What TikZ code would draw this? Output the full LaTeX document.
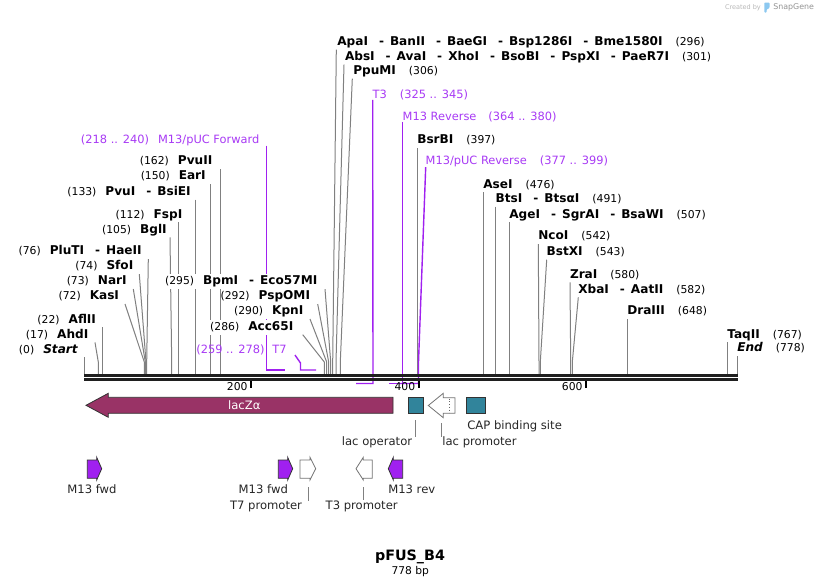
\documentclass[tikz,border=0pt]{standalone}
\usepackage{fontspec}
\setmainfont{DejaVu Sans}
\pgfdeclarelayer{bg}
\pgfsetlayers{bg,main}
\definecolor{enzgray}{RGB}{128,128,128}
\definecolor{primer}{RGB}{160,32,240}
\definecolor{primertxt}{RGB}{168,58,245}
\definecolor{laczcol}{RGB}{153,51,102}
\definecolor{featteal}{RGB}{49,132,155}
\definecolor{edgedark}{RGB}{50,50,50}
\definecolor{snapblue}{RGB}{140,200,240}
\newcommand\nmf{\fontsize{12.1}{14}\selectfont\bfseries}
\newcommand\numf{\fontsize{10.8}{13}\selectfont\mdseries}
\newcommand\prf{\fontsize{11.4}{13}\selectfont}
\newcommand\ftf{\fontsize{11.6}{13}\selectfont}
\newcommand\rlab[2]{{\nmf #1}\hspace{13pt}{\numf(#2)}}
\newcommand\llab[2]{{\numf(#1)}\hspace{9pt}{\nmf #2}}
\newcommand\dsh{\hspace{11pt}-\hspace{6pt}}
\begin{document}
\begin{tikzpicture}[x=1pt,y=-1pt,
  lab/.style={inner sep=0pt,outer sep=0pt},
  enzbox/.style={lab,fill=white,text height=9.3pt,text depth=3pt,inner ysep=1.2pt},
  rl/.style={enzbox,anchor=west},
  ll/.style={enzbox,anchor=east},
  enzl/.style={draw=enzgray,line width=1pt},
  prl/.style={draw=primer,line width=1.4pt},
  prlab/.style={lab,text=primertxt,font=\prf},
  ftlab/.style={lab,font=\ftf,text=black!85},
  conn/.style={draw=enzgray,line width=0.9pt},
  bbone/.style={draw=black!88,line width=3pt},
  scaletick/.style={draw=black,line width=2pt},
  scalelab/.style={lab,anchor=east,font=\numf},
  primerfeat/.style={fill=primer,draw=edgedark,line width=0.8pt},
  promfeat/.style={fill=white,draw=black!55,line width=0.8pt},
  boxfeat/.style={fill=featteal,draw=edgedark,line width=0.8pt,inner sep=0pt}]
\begin{pgfonlayer}{bg}
\fill[white] (0,0) rectangle (822,587);
\end{pgfonlayer}
\useasboundingbox (0,0) rectangle (822,587);

% site coordinates
\foreach \n/\x in {0/84,17/98.3,22/102.3,72/144.3,73/145.3,74/146,76/146.7,105/171.7,112/178.5,133/195.3,150/210.7,162/220.7,286/324.3,290/326.7,292/328.7,295/330.7,296/332.7,301/336,306/340.3,397/417.3,476/483.3,491/495.7,507/509.3,542/539,543/540.3,580/570.7,582/572.3,648/627.3,767/727.3,778/737.3}{
  \coordinate (k\n) at (\x,362);
  \coordinate (b\n) at (\x,374.3);
}

% ---------- right-hand enzyme labels ----------
\node[rl] (ApaI) at (337.3,42.3) {\rlab{ApaI\dsh BanII\dsh BaeGI\dsh Bsp1286I\dsh Bme1580I}{296}};
\node[rl] (AbsI) at (345,57.3) {\rlab{AbsI\dsh AvaI\dsh XhoI\dsh BsoBI\dsh PspXI\dsh PaeR7I}{301}};
\node[rl] (PpuMI) at (353.3,71.3) {\rlab{PpuMI}{306}};
\node[rl] (BsrBI) at (417.3,140.7) {\rlab{BsrBI}{397}};
\node[rl] (AseI) at (483.3,185) {\rlab{AseI}{476}};
\node[rl] (BtsI) at (495.7,199.3) {\rlab{BtsI\dsh BtsαI}{491}};
\node[rl] (AgeI) at (509.3,215) {\rlab{AgeI\dsh SgrAI\dsh BsaWI}{507}};
\node[rl] (NcoI) at (538.3,236.7) {\rlab{NcoI}{542}};
\node[rl] (BstXI) at (546.7,252.3) {\rlab{BstXI}{543}};
\node[rl] (ZraI) at (570,275) {\rlab{ZraI}{580}};
\node[rl] (XbaI) at (578.3,290) {\rlab{XbaI\dsh AatII}{582}};
\node[rl] (DraIII) at (627.3,311.7) {\rlab{DraIII}{648}};
\node[rl] (TaqII) at (727.3,335) {\rlab{TaqII}{767}};
\node[rl] (End) at (737.3,348.3) {\rlab{\itshape End}{778}};

% ---------- left-hand enzyme labels ----------
\node[ll] (PvuII) at (212.3,161.7) {\llab{162}{PvuII}};
\node[ll] (EarI) at (205.7,176.7) {\llab{150}{EarI}};
\node[ll] (PvuI) at (190.7,192.3) {\llab{133}{PvuI\dsh BsiEI}};
\node[ll] (FspI) at (182.3,215) {\llab{112}{FspI}};
\node[ll] (BglI) at (166.7,230) {\llab{105}{BglI}};
\node[ll] (PluTI) at (141.7,251.7) {\llab{76}{PluTI\dsh HaeII}};
\node[ll] (SfoI) at (133.3,266.7) {\llab{74}{SfoI}};
\node[ll] (NarI) at (126.7,281.7) {\llab{73}{NarI}};
\node[ll] (KasI) at (119,296.7) {\llab{72}{KasI}};
\node[ll] (AflII) at (96,320) {\llab{22}{AflII}};
\node[ll] (AhdI) at (88.3,335) {\llab{17}{AhdI}};
\node[ll] (Start) at (77.7,350) {\llab{0}{\itshape Start}};
\node[ll] (BpmI) at (317.3,281.7) {\llab{295}{BpmI\dsh Eco57MI}};
\node[ll] (PspOMI) at (310,296.7) {\llab{292}{PspOMI}};
\node[ll] (KpnI) at (303.3,311.7) {\llab{290}{KpnI}};
\node[ll] (Acc65I) at (293.3,327.3) {\llab{286}{Acc65I}};

% ---------- primer labels ----------
\node[prlab,anchor=east] (pFwd) at (259.3,140) {(218 .. 240)\hspace{9pt}M13/pUC Forward};
\node[prlab,anchor=east] (pT7) at (286.7,350) {(259 .. 278)\hspace{8pt}T7};
\node[prlab,anchor=west] (pT3) at (372.7,94.7) {T3\hspace{13pt}(325 .. 345)};
\node[prlab,anchor=west] (pMR) at (402.7,116.7) {M13 Reverse\hspace{12pt}(364 .. 380)};
\node[prlab,anchor=west] (pMpR) at (425.7,161.7) {M13/pUC Reverse\hspace{13pt}(377 .. 399)};

\coordinate (pfA) at (266.5,370); \coordinate (pfB) at (284.5,370);
\coordinate (t7k) at (300.5,363); \coordinate (t7A) at (300.5,370); \coordinate (t7B) at (316,370);
\coordinate (t3A) at (373,383.5); \coordinate (t3B) at (356,383.5);
\coordinate (mrA) at (402.7,383.5); \coordinate (mrB) at (389,383.5);
\coordinate (mpk) at (418.5,362); \coordinate (mpA) at (418.5,383.5); \coordinate (mpB) at (399,383.5);

\begin{pgfonlayer}{bg}
% ---------- enzyme connectors ----------
\draw[enzl] ([xshift=-1pt]ApaI.south west) -- (k296) -- (b296);
\draw[enzl] ([xshift=-1pt]AbsI.south west) -- (k301) -- (b301);
\draw[enzl] ([xshift=-1pt]PpuMI.south west) -- (k306) -- (b306);
\draw[enzl] (BsrBI.south west -| b397) -- (b397);
\draw[enzl] (AseI.south west -| b476) -- (b476);
\draw[enzl] (BtsI.south west -| b491) -- (b491);
\draw[enzl] (AgeI.south west -| b507) -- (b507);
\draw[enzl] (NcoI.south west) -- (k542) -- (b542);
\draw[enzl] (BstXI.south west) -- (k543) -- (b543);
\draw[enzl] (ZraI.south west) -- (k580) -- (b580);
\draw[enzl] (XbaI.south west) -- (k582) -- (b582);
\draw[enzl] (DraIII.south west -| b648) -- (b648);
\draw[enzl] (TaqII.south west -| b767) -- (b767);
\draw[enzl] (End.south west -| b778) -- (b778);

\draw[enzl] (PvuII.south east -| b162) -- (b162);
\draw[enzl] (EarI.south east -| b150) -- (b150);
\draw[enzl] (PvuI.south east -| b133) -- (b133);
\draw[enzl] (FspI.south east -| b112) -- (b112);
\draw[enzl] ([xshift=3.3pt]BglI.south east) -- (k105) -- (b105);
\draw[enzl] ([xshift=6.6pt]PluTI.south east) -- (k76) -- (b76);
\draw[enzl] ([xshift=6pt]SfoI.south east) -- (k74) -- (b74);
\draw[enzl] ([xshift=6.6pt]NarI.south east) -- (k73) -- (b73);
\draw[enzl] ([xshift=6pt]KasI.south east) -- (k72) -- (b72);
\draw[enzl] (AflII.south east -| b22) -- (b22);
\draw[enzl] ([xshift=6.7pt]AhdI.south east) -- (k17) -- (b17);
\draw[enzl] (Start.south east -| b0) -- (b0);
\draw[enzl] ([xshift=7.7pt]BpmI.south east) -- (k295) -- (b295);
\draw[enzl] ([xshift=7.7pt]PspOMI.south east) -- (k292) -- (b292);
\draw[enzl] ([xshift=6.7pt]KpnI.south east) -- (k290) -- (b290);
\draw[enzl] ([xshift=9.4pt]Acc65I.south east) -- (k286) -- (b286);

% ---------- primer connectors ----------
\draw[prl] (pFwd.south east -| pfA) -- (pfA) -- (pfB);
\draw[prl] ([xshift=8.3pt]pT7.south east) -- (t7k) -- (t7A) -- (t7B);
\draw[prl] (pT3.south west) -- (t3A) -- (t3B);
\draw[prl] (pMR.south west) -- (mrA) -- (mrB);
\draw[prl] (pMpR.south west) -- (mpk) -- (mpA) -- (mpB);
\end{pgfonlayer}

% ---------- backbone ----------
\coordinate (bbL) at (84,375.8); \coordinate (bbR) at (738,375.8);
\draw[bbone] (bbL) -- (bbR);
\draw[bbone] ([yshift=-3.9pt]bbL) -- ([yshift=-3.9pt]bbR);

% scale
\foreach \v/\x in {200/251,400/418.7,600/586}{
  \coordinate (tk\v) at (\x,381);
  \draw[scaletick] (tk\v) -- ++(0,6.5);
  \node[scalelab] (sl\v) at (\x-3.5,387) {\v};
}

% ---------- features row 1 ----------
\draw[fill=laczcol,draw=edgedark,line width=0.8pt] (393,397.3) -- (108.3,397.3) -- (108.3,393.3) -- (86,405.3) -- (108.3,417.3) -- (108.3,413.3) -- (393,413.3) -- cycle;
\node[lab,text=white,font=\ftf] (lacZ) at (244.3,405) {lacZα};

\node[boxfeat,minimum width=15pt,minimum height=15.6pt] (lacop) at (415.8,405.5) {};
\draw[promfeat] (455,397.7) -- (443.3,397.7) -- (443.3,393.3) -- (428.3,405.5) -- (443.3,417.7) -- (443.3,413.3) -- (455,413.3) -- cycle;
\draw[black!60,dotted,line width=0.8pt] (449,398.5) -- (449,412.5);
\node[boxfeat,minimum width=19.7pt,minimum height=15.6pt] (cap) at (475.9,405.5) {};

\node[ftlab] (lopl) at (377,442.7) {lac operator};
\node[ftlab] (lprl) at (479.5,442.7) {lac promoter};
\node[ftlab,anchor=west] (capl) at (467.3,426.7) {CAP binding site};
\coordinate (lpc) at (441,423.3);
\draw[conn] ([yshift=-6.7pt]lacop.south) -- (lacop.south |- lopl.north);
\draw[conn] (lpc) -- (lpc |- lprl.north);

% ---------- features row 2 ----------
\draw[primerfeat] (87.3,460) -- (96.7,460) -- (96.7,457.3) -- (101.7,468.7) -- (96.7,480) -- (96.7,478.3) -- (87.3,478.3) -- cycle;
\draw[primerfeat] (278.3,460) -- (287.7,460) -- (287.7,457.3) -- (292.7,468.7) -- (287.7,480) -- (287.7,478.3) -- (278.3,478.3) -- cycle;
\draw[promfeat] (300,460) -- (310,460) -- (310,457.3) -- (315.7,468.7) -- (310,480) -- (310,478.3) -- (300,478.3) -- cycle;
\draw[promfeat] (372.3,460) -- (363.3,460) -- (363.3,457.3) -- (356,468.7) -- (363.3,480) -- (363.3,478.3) -- (372.3,478.3) -- cycle;
\draw[primerfeat] (402.7,460) -- (393.3,460) -- (393.3,457.3) -- (388.3,468.7) -- (393.3,480) -- (393.3,478.3) -- (402.7,478.3) -- cycle;

\node[ftlab] (m13f1) at (92,489.3) {M13 fwd};
\node[ftlab] (m13f2) at (263.3,489.3) {M13 fwd};
\node[ftlab] (t7p) at (266,506) {T7 promoter};
\node[ftlab] (t3p) at (361.7,506) {T3 promoter};
\node[ftlab,anchor=west] (m13r) at (388.3,489.3) {M13 rev};
\coordinate (t7c) at (308.3,487); \coordinate (t3c) at (363.3,487);
\draw[conn] (t7c) -- (t7c |- t7p.north);
\draw[conn] (t3c) -- (t3c |- t3p.north);

% ---------- title ----------
\node[lab,font=\fontsize{14.3}{16}\selectfont\bfseries] (title) at (410,556.7) {pFUS\_B4};
\node[lab,font=\fontsize{10.7}{12}\selectfont] (bp) at (410.3,571.7) {778 bp};

% ---------- watermark ----------
\node[lab,anchor=west,text=black!28,font=\fontsize{6.5}{8}\selectfont] (cby) at (725,7.5) {Created by};
\fill[snapblue,rounded corners=0.8pt] (764.3,2.5) -- (769.5,2.5) -- (769.5,8) -- (766.6,9.5) -- (766.6,12.5) -- (764.3,12.5) -- cycle;
\node[lab,anchor=west,text=black!42,font=\fontsize{7.9}{9}\selectfont] (sg) at (773.3,7.2) {SnapGene};
\end{tikzpicture}
\end{document}
